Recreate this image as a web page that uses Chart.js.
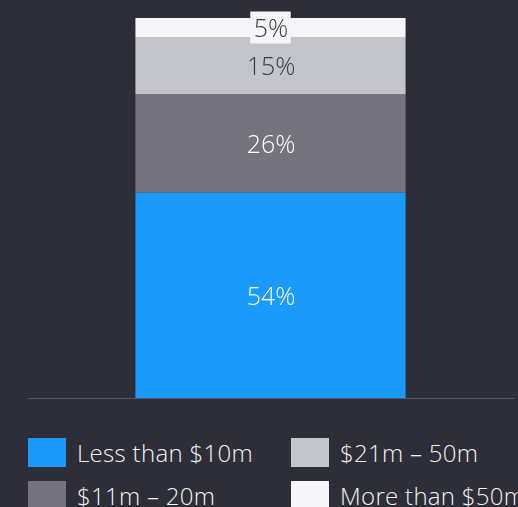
<!DOCTYPE html>
<html>
<head>
<meta charset="utf-8">
<script src="https://cdn.jsdelivr.net/npm/chart.js@4.4.0/dist/chart.umd.min.js"></script>
<style>
    html, body { margin: 0; padding: 0; background: #2e2e38; overflow: hidden; }
    body { width: 518px; height: 507px; position: relative; font-family: "Open Sans", sans-serif; }
    #wrap { position: absolute; left: 0; top: 0; width: 518px; height: 406px; }
    #legend { position: absolute; left: 28px; top: 436px; width: 540px; }
    .item { position: absolute; display: flex; align-items: center; white-space: nowrap;
            color: #f2f2f7; font-size: 24px; font-weight: 300; letter-spacing: 0.3px; }
    .item span.box { display: inline-block; width: 38px; height: 29px; margin-right: 11px; }
</style>
</head>
<body>
<div id="wrap"><canvas id="chart"></canvas></div>
<div id="legend"></div>
<script>
// Données
const categories = ['Deal size'];
const seriesNames = ['Less than $10m', '$11m – 20m', '$21m – 50m', 'More than $50m'];
const seriesValues = [54, 26, 15, 5];
const seriesColors = ['#1a9bfc', '#74737e', '#c4c4cc', '#f5f5fa'];
const labelColors = ['#ffffff', '#ffffff', '#3b3b45', '#3b3b45'];

// Plugin pour écrire les pourcentages au centre de chaque segment
const segmentLabels = {
    id: 'segmentLabels',
    afterDatasetsDraw(chart) {
        const ctx = chart.ctx;
        ctx.save();
        ctx.font = '300 25px "Open Sans", sans-serif';
        ctx.textAlign = 'center';
        ctx.textBaseline = 'middle';
        chart.data.datasets.forEach((ds, i) => {
            const bar = chart.getDatasetMeta(i).data[0];
            const text = ds.data[0] + '%';
            const x = bar.x;
            const y = (bar.y + bar.base) / 2 + 2;
            // petit segment : fond blanc derrière le texte
            if (bar.base - bar.y < 30) {
                const w = ctx.measureText(text).width + 6;
                ctx.fillStyle = '#f5f5fa';
                ctx.fillRect(x - w / 2, y - 18, w, 32);
            }
            ctx.fillStyle = labelColors[i];
            ctx.fillText(text, x + 0.5, y);
        });
        ctx.restore();
    }
};

const chart = new Chart(document.getElementById('chart'), {
    type: 'bar',
    data: {
        labels: categories,
        datasets: seriesValues.map((v, i) => ({
            label: seriesNames[i],
            data: [v],
            backgroundColor: seriesColors[i],
            borderWidth: 0,
            categoryPercentage: 1,
            barPercentage: 0.557
        }))
    },
    options: {
        responsive: true,
        maintainAspectRatio: false,
        animation: false,
        layout: { padding: { left: 28, right: 5, top: 18, bottom: 0 } },
        plugins: { legend: { display: false }, tooltip: { enabled: false } },
        scales: {
            x: {
                stacked: true,
                grid: { display: false },
                ticks: { display: false },
                border: { display: true, color: '#585862', width: 1 }
            },
            y: { stacked: true, display: false, min: 0, max: 100 }
        }
    },
    plugins: [segmentLabels]
});

// Légende en deux colonnes
const legend = document.getElementById('legend');
const order = [0, 2, 1, 3];
order.forEach((idx, k) => {
    const col = k % 2, row = Math.floor(k / 2);
    const item = document.createElement('div');
    item.className = 'item';
    item.style.left = (col * 263) + 'px';
    item.style.top = (row * 43) + 'px';
    item.innerHTML = '<span class="box" style="background:' + seriesColors[idx] + '"></span>' + seriesNames[idx];
    legend.appendChild(item);
});
</script>
</body>
</html>
